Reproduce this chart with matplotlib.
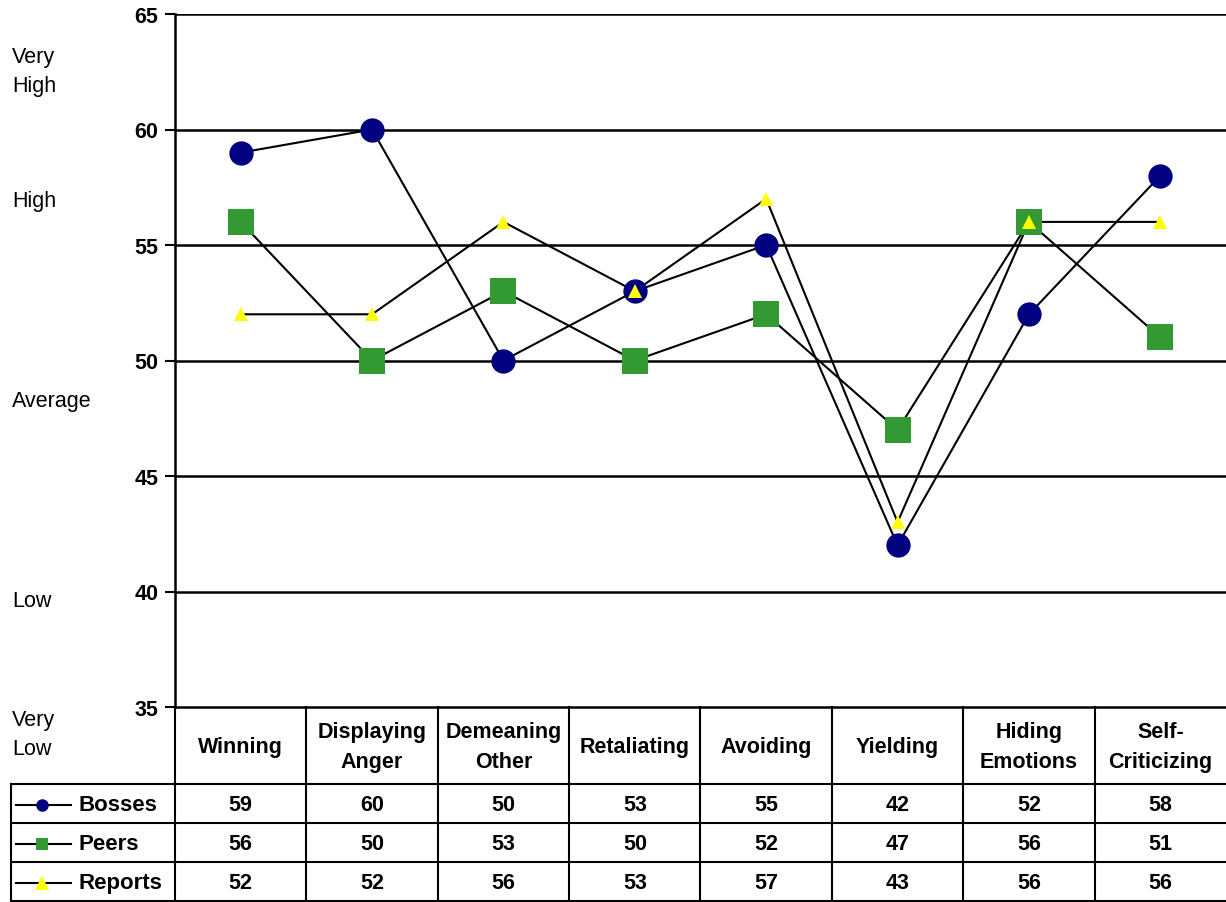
import matplotlib
matplotlib.use("Agg")
import matplotlib.pyplot as plt
from matplotlib.lines import Line2D

plt.rcParams['font.family'] = ['Liberation Sans', 'DejaVu Sans']

categories = ["Winning", "Displaying\nAnger", "Demeaning\nOther", "Retaliating",
              "Avoiding", "Yielding", "Hiding\nEmotions", "Self-\nCriticizing"]
bosses = [59, 60, 50, 53, 55, 42, 52, 58]
peers = [56, 50, 53, 50, 52, 47, 56, 51]
reports = [52, 52, 56, 53, 57, 43, 56, 56]
series_names = ["Bosses", "Peers", "Reports"]
y_ticks = [35, 40, 45, 50, 55, 60, 65]
level_labels = ["Very\nHigh", "High", "Average", "Low", "Very\nLow"]

series = [bosses, peers, reports]
styles = [dict(marker='o', color='#000080', ms=17.5),
          dict(marker='s', color='#339933', ms=18.5),
          dict(marker='^', color='#FFFF00', ms=10.5)]

W, H = 1226, 903
fig = plt.figure(figsize=(W / 100, H / 100), dpi=100)


def fx(px):
    return px / W


def fy(py):
    return 1 - py / H


ax_left, ax_right, ax_top, ax_bottom = 175, 1226, 15, 708
ax = fig.add_axes([fx(ax_left), fy(ax_bottom), fx(ax_right - ax_left),
                   (ax_bottom - ax_top) / H])
n = len(categories)
xs = [i + 0.5 for i in range(n)]
ax.set_xlim(0, n)
ax.set_ylim(y_ticks[0], y_ticks[-1])
ax.set_yticks(y_ticks)
ax.set_yticklabels([str(t) for t in y_ticks], fontsize=15.5, fontweight='bold')
ax.set_xticks([])
ax.tick_params(axis='y', length=7, width=1.5, pad=5)
for s in ['top', 'right']:
    ax.spines[s].set_visible(False)
ax.spines['left'].set_linewidth(1.8)
ax.spines['bottom'].set_linewidth(1.8)
for t in y_ticks[1:]:
    ax.axhline(t, color='black', lw=1.8, zorder=1)

# connecting lines first, markers above all lines
for vals in series:
    ax.plot(xs, vals, color='black', lw=1.5, zorder=2, clip_on=False)
for vals, st in zip(series, styles):
    ax.plot(xs, vals, linestyle='none', marker=st['marker'], ms=st['ms'],
            markerfacecolor=st['color'], markeredgewidth=0, zorder=3,
            clip_on=False)

# level descriptors on the left
level_px = [72, 202, 402, 602, 735]
for text, py in zip(level_labels, level_px):
    fig.text(fx(12), fy(py), text, fontsize=15.5, ha='left', va='center',
             linespacing=1.5)

# data table below the axes
col_w = (ax_right - ax_left) / n
row_tops = [785, 824, 863, 902]
tbl_left = 11
lw = 1.5


def hline(x0, x1, y):
    fig.add_artist(Line2D([fx(x0), fx(x1)], [fy(y), fy(y)], color='black', lw=lw))


def vline(x, y0, y1):
    fig.add_artist(Line2D([fx(x), fx(x)], [fy(y0), fy(y1)], color='black', lw=lw))


for y in row_tops:
    hline(tbl_left, ax_right, y)
vline(tbl_left, row_tops[0], row_tops[-1])
vline(ax_left, ax_bottom, row_tops[-1])
for i in range(1, n):
    vline(ax_left + i * col_w, ax_bottom, row_tops[-1])

for i, cat in enumerate(categories):
    cx = ax_left + (i + 0.5) * col_w
    fig.text(fx(cx), fy((ax_bottom + row_tops[0]) / 2 + 1), cat, fontsize=15.5,
             fontweight='bold', ha='center', va='center', linespacing=1.6)

for r, (name, vals, st) in enumerate(zip(series_names, series, styles)):
    cy = (row_tops[r] + row_tops[r + 1]) / 2 + 1
    fig.add_artist(Line2D([fx(16), fx(71)], [fy(cy), fy(cy)], color='black', lw=1.5))
    fig.add_artist(Line2D([fx(42)], [fy(cy)], marker=st['marker'],
                          ms={'o': 9, 's': 9, '^': 10.5}[st['marker']],
                          markerfacecolor=st['color'], markeredgewidth=0,
                          linestyle='none'))
    fig.text(fx(78), fy(cy), name, fontsize=16, fontweight='bold',
             ha='left', va='center')
    for i, v in enumerate(vals):
        cx = ax_left + (i + 0.5) * col_w
        fig.text(fx(cx), fy(cy), str(v), fontsize=15.5, fontweight='bold',
                 ha='center', va='center')

fig.savefig("out.png", dpi=100)
